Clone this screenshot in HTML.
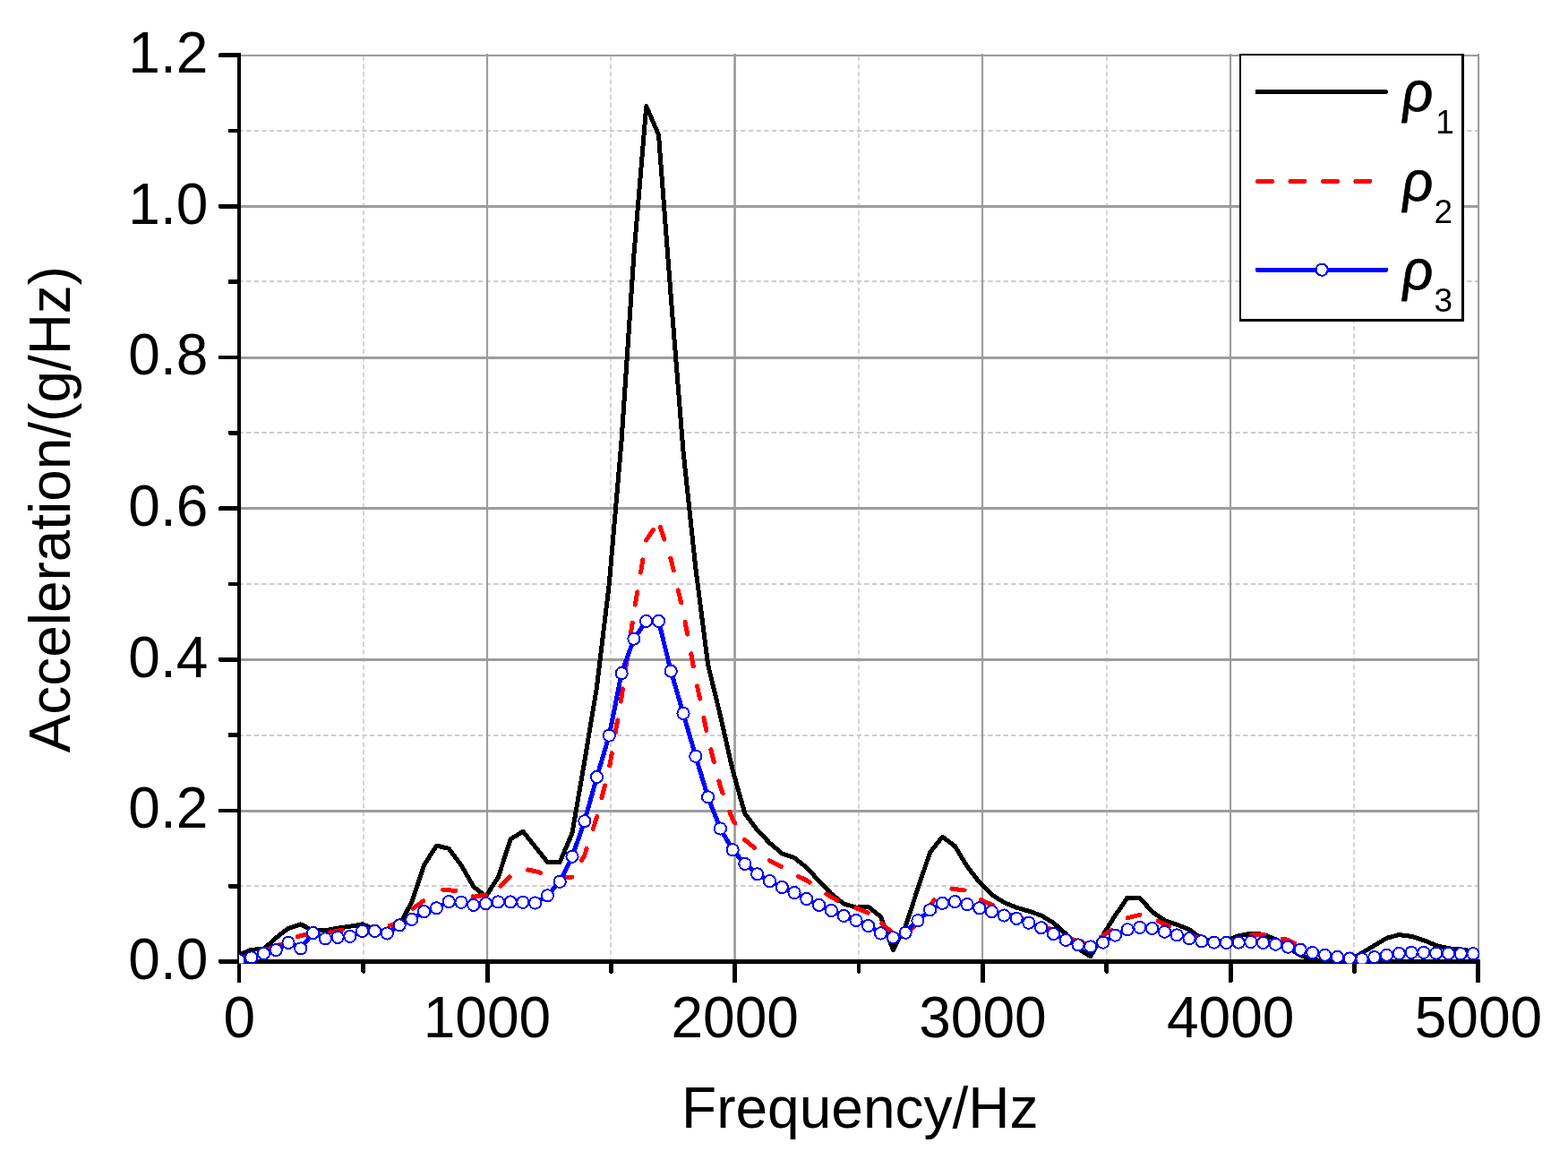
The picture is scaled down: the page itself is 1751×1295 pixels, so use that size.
<!DOCTYPE html>
<html lang="en"><head><meta charset="utf-8"><title>Acceleration vs Frequency</title>
<style>html,body{margin:0;padding:0;background:#fff}body{width:1751px;height:1295px;overflow:hidden}svg{display:block}text{font-family:"Liberation Sans",Arial,sans-serif;fill:#000}</style></head><body>
<svg width="1751" height="1295" viewBox="0 0 1751 1295" role="img" aria-label="Acceleration versus frequency for three densities">
<rect width="1751" height="1295" fill="#fff"/>
<defs><clipPath id="plot"><rect x="267" y="57" width="1385" height="1018.6"/></clipPath></defs>
<g id="grid-minor" stroke="#cdcdcd" fill="none">
<line x1="269" x2="1651" y1="989" y2="989" stroke-width="1.85" stroke-dasharray="5.32 3.308" stroke-dashoffset="2.6"/>
<line x1="269" x2="1651" y1="821" y2="821" stroke-width="1.85" stroke-dasharray="5.32 3.308" stroke-dashoffset="2.6"/>
<line x1="269" x2="1651" y1="652" y2="652" stroke-width="1.85" stroke-dasharray="5.32 3.308" stroke-dashoffset="2.6"/>
<line x1="269" x2="1651" y1="483" y2="483" stroke-width="1.85" stroke-dasharray="5.32 3.308" stroke-dashoffset="2.6"/>
<line x1="269" x2="1651" y1="314" y2="314" stroke-width="1.85" stroke-dasharray="5.32 3.308" stroke-dashoffset="2.6"/>
<line x1="269" x2="1651" y1="146" y2="146" stroke-width="1.85" stroke-dasharray="5.32 3.308" stroke-dashoffset="2.6"/>
<line x1="406" x2="406" y1="63" y2="1071" stroke-width="1.7" stroke-dasharray="5.3 3.3"/>
<line x1="682" x2="682" y1="63" y2="1071" stroke-width="1.7" stroke-dasharray="5.3 3.3"/>
<line x1="959" x2="959" y1="63" y2="1071" stroke-width="1.7" stroke-dasharray="5.3 3.3"/>
<line x1="1236" x2="1236" y1="63" y2="1071" stroke-width="1.7" stroke-dasharray="5.3 3.3"/>
<line x1="1512.1" x2="1512.1" y1="63" y2="1071" stroke-width="1.7" stroke-dasharray="5.3 3.3"/>
</g>
<g id="grid-major" fill="#9d9d9d">
<rect x="269" y="904" width="1383" height="3"/>
<rect x="269" y="735" width="1383" height="3"/>
<rect x="269" y="566" width="1383" height="3"/>
<rect x="269" y="398" width="1383" height="3"/>
<rect x="269" y="229" width="1383" height="3"/>
<rect x="269" y="60.9" width="1383" height="2.1"/>
<rect x="543" y="60" width="2.1" height="1011.5"/>
<rect x="819.2" y="60" width="2.7" height="1011.5"/>
<rect x="1096" y="60" width="2.1" height="1011.5"/>
<rect x="1373" y="60" width="2.1" height="1011.5"/>
<rect x="1650" y="60" width="2.1" height="1011.5"/>
</g>
<g id="axes" fill="#000" shape-rendering="crispEdges">
<rect x="265" y="58.6" width="4.1" height="1017.4" rx="1"/>
<rect x="264.9" y="1071.2" width="1388.2" height="4.7"/>
<rect x="244" y="1071.15" width="24" height="4.7" rx="1.6"/>
<rect x="254.6" y="986.83" width="13" height="4.7" rx="1.6"/>
<rect x="244" y="902.51" width="24" height="4.7" rx="1.6"/>
<rect x="254.6" y="818.19" width="13" height="4.7" rx="1.6"/>
<rect x="244" y="733.87" width="24" height="4.7" rx="1.6"/>
<rect x="254.6" y="649.55" width="13" height="4.7" rx="1.6"/>
<rect x="244" y="565.23" width="24" height="4.7" rx="1.6"/>
<rect x="254.6" y="480.91" width="13" height="4.7" rx="1.6"/>
<rect x="244" y="396.59" width="24" height="4.7" rx="1.6"/>
<rect x="254.6" y="312.27" width="13" height="4.7" rx="1.6"/>
<rect x="244" y="227.95" width="24" height="4.7" rx="1.6"/>
<rect x="254.6" y="143.63" width="13" height="4.7" rx="1.6"/>
<rect x="244" y="59.31" width="24" height="4.7" rx="1.6"/>
<rect x="264.95" y="1073" width="4.1" height="24.2" rx="1.6"/>
<rect x="403.35" y="1073" width="4.9" height="13.6" rx="1.6"/>
<rect x="541.95" y="1073" width="4.9" height="24.2" rx="1.6"/>
<rect x="679.95" y="1073" width="4.9" height="13.6" rx="1.6"/>
<rect x="818.05" y="1073" width="4.9" height="24.2" rx="1.6"/>
<rect x="956.55" y="1073" width="4.9" height="13.6" rx="1.6"/>
<rect x="1094.95" y="1073" width="4.9" height="24.2" rx="1.6"/>
<rect x="1233.35" y="1073" width="4.9" height="13.6" rx="1.6"/>
<rect x="1371.75" y="1073" width="4.9" height="24.2" rx="1.6"/>
<rect x="1509.95" y="1073" width="4.9" height="13.6" rx="1.6"/>
<rect x="1648.05" y="1073" width="4.9" height="24.2" rx="1.6"/>
</g>
<g id="series" clip-path="url(#plot)" fill="none" stroke-linejoin="round" stroke-linecap="round" shape-rendering="crispEdges">
<polyline id="rho1" points="266.9,1066.2 280.7,1060.2 294.5,1059.6 308.2,1046.9 322.0,1036.4 335.8,1031.9 349.6,1038.9 363.4,1038.9 377.1,1036.1 390.9,1034.2 404.7,1031.8 418.5,1037.5 432.3,1041.5 446.1,1033.0 459.8,1006.9 473.6,965.8 487.4,944.1 501.2,947.3 515.0,965.8 528.7,989.8 542.5,1000.7 556.3,979.5 570.1,937.0 583.9,928.1 597.6,945.2 611.4,962.4 625.2,962.4 639.0,930.0 652.8,849.9 666.5,766.8 680.3,651.8 694.1,491.4 707.9,284.4 721.7,118.5 735.5,150.7 749.2,331.0 763.0,503.8 776.8,634.0 790.6,742.0 804.4,798.8 818.1,859.5 831.9,908.5 845.7,926.7 859.5,941.1 873.3,952.8 887.0,957.6 900.8,968.5 914.6,983.6 928.4,998.0 942.2,1009.0 956.0,1013.1 969.7,1012.4 983.5,1023.4 997.3,1060.4 1011.1,1034.6 1024.9,992.0 1038.6,951.5 1052.4,934.3 1066.2,944.5 1080.0,967.2 1093.8,985.0 1107.5,998.7 1121.3,1007.6 1135.1,1013.1 1148.9,1017.2 1162.7,1022.0 1176.4,1030.2 1190.2,1042.5 1204.0,1059.0 1217.8,1067.9 1231.6,1043.9 1245.4,1022.0 1259.1,1002.1 1272.9,1002.5 1286.7,1017.9 1300.5,1027.5 1314.3,1032.3 1328.0,1037.7 1341.8,1048.0 1355.6,1051.0 1369.4,1050.0 1383.2,1044.6 1396.9,1042.3 1410.7,1043.2 1424.5,1048.7 1438.3,1057.6 1452.1,1066.5 1465.8,1071.5 1479.6,1072.7 1493.4,1072.7 1507.2,1072.0 1521.0,1063.8 1534.8,1055.6 1548.5,1047.3 1562.3,1043.6 1576.1,1045.3 1589.9,1049.7 1603.7,1055.4 1617.4,1058.8 1631.2,1060.2 1645.0,1061.6" stroke="#000" stroke-width="5.0"/>
<path id="rho2" d="M266.9 1069.5L278.9 1066.9M299.8 1059.3L308.2 1057.0L313.1 1054.4M332.2 1045.8L335.8 1044.5L346.1 1042.6M368.0 1041.1L377.1 1039.2L382.0 1038.2M401.6 1036.9L404.7 1037.0L415.9 1037.0M435.1 1033.1L446.1 1031.5L448.2 1029.0M461.1 1014.2L472.8 1005.9M494.5 993.3L501.2 993.8L508.7 994.3M528.1 1000.9L528.7 1001.2L542.2 999.1M559.1 989.3L569.0 979.0M589.6 971.0L597.6 972.6L603.4 974.4M624.7 980.4L625.2 980.6L638.9 979.1M649.5 960.6L652.8 954.8L655.1 947.5M662.3 925.3L666.5 912.3L666.7 911.7M672.0 890.7L675.5 876.8M680.8 854.9L683.3 840.8M687.2 818.1L689.6 804.0M693.2 783.1L694.1 778.0L695.4 768.9M698.6 747.0L700.7 732.8M704.1 709.3L706.2 695.1M709.3 675.0L711.7 660.9M715.5 639.0L717.9 624.9M721.6 603.1L721.7 602.9L729.6 591.2M737.4 588.4L741.9 602.0M748.8 623.1L749.2 624.4L752.2 636.9M757.3 659.0L760.6 672.9M765.0 694.2L767.7 708.2M771.7 729.8L774.3 743.9M778.6 766.0L781.5 780.0M785.9 801.3L788.8 815.4M793.9 836.9L797.4 850.8M802.8 872.0L804.4 878.0L807.2 885.6M814.9 906.1L818.1 914.8L820.7 919.1M831.6 937.2L831.9 937.7L842.4 946.5M859.4 960.9L859.5 961.0L872.2 967.3M891.6 978.4L900.8 982.9L904.1 985.3M922.6 998.0L928.4 1001.4L935.0 1005.1M955.8 1013.7L956.0 1013.8L969.1 1019.0M985.0 1030.9L995.4 1040.7M1013.0 1041.9L1023.1 1031.8M1034.9 1016.6L1038.6 1011.6L1043.1 1004.9M1062.9 992.2L1066.2 992.6L1077.1 994.0M1095.2 1004.6L1107.5 1010.0L1108.3 1010.5M1127.7 1021.1L1135.1 1023.5L1141.3 1025.5M1162.2 1033.3L1162.7 1033.5L1175.7 1038.2M1195.7 1048.0L1204.0 1051.0L1209.4 1052.0M1229.3 1046.0L1231.6 1044.6L1241.4 1038.3M1259.1 1024.7L1259.1 1024.7L1272.9 1021.3L1272.9 1021.3M1293.1 1028.3L1300.5 1031.6L1305.9 1034.5M1326.3 1043.4L1328.0 1044.0L1340.0 1047.5M1361.9 1051.2L1369.4 1051.5L1376.1 1050.3M1397.4 1043.9L1410.7 1043.5L1411.6 1043.7M1432.2 1048.2L1438.3 1049.4L1445.5 1053.0M1465.8 1062.0L1465.8 1062.0L1479.5 1066.1M1501.4 1069.3L1507.2 1070.0L1515.7 1070.4M1537.7 1068.1L1548.5 1066.3L1551.8 1065.9M1573.9 1063.6L1576.1 1063.4L1588.2 1063.4M1610.4 1064.3L1617.4 1064.5L1624.7 1064.6" stroke="#ff0000" stroke-width="5.0"/>
<polyline id="rho3" points="266.9,1072.0 280.7,1068.9 294.5,1064.4 308.2,1060.6 322.0,1052.4 335.8,1058.9 349.6,1041.5 363.4,1047.9 377.1,1046.4 390.9,1045.4 404.7,1039.4 418.5,1039.4 432.3,1042.0 446.1,1032.9 459.8,1026.4 473.6,1017.6 487.4,1013.8 501.2,1006.6 515.0,1007.3 528.7,1010.3 542.5,1008.6 556.3,1006.9 570.1,1006.9 583.9,1007.3 597.6,1008.0 611.4,999.8 625.2,984.3 639.0,956.2 652.8,916.7 666.5,867.5 680.3,821.1 694.1,751.6 707.9,713.2 721.7,693.4 735.5,693.4 749.2,749.2 763.0,796.4 776.8,844.3 790.6,889.9 804.4,925.0 818.1,948.7 831.9,964.4 845.7,975.8 859.5,983.6 873.3,990.5 887.0,996.6 900.8,1003.5 914.6,1010.3 928.4,1016.5 942.2,1022.4 956.0,1027.5 969.7,1033.6 983.5,1041.9 997.3,1046.7 1011.1,1041.2 1024.9,1027.7 1038.6,1015.8 1052.4,1008.3 1066.2,1006.6 1080.0,1009.6 1093.8,1013.8 1107.5,1017.6 1121.3,1022.0 1135.1,1025.4 1148.9,1030.2 1162.7,1035.7 1176.4,1042.5 1190.2,1049.4 1204.0,1054.9 1217.8,1056.9 1231.6,1052.1 1245.4,1044.1 1259.1,1037.7 1272.9,1035.4 1286.7,1036.4 1300.5,1040.2 1314.3,1043.9 1328.0,1047.8 1341.8,1050.8 1355.6,1052.1 1369.4,1052.4 1383.2,1052.1 1396.9,1051.5 1410.7,1052.4 1424.5,1054.2 1438.3,1057.2 1452.1,1060.2 1465.8,1063.6 1479.6,1066.2 1493.4,1068.3 1507.2,1070.0 1521.0,1070.6 1534.8,1068.6 1548.5,1066.3 1562.3,1064.5 1576.1,1063.4 1589.9,1063.4 1603.7,1064.1 1617.4,1064.5 1631.2,1064.7 1645.0,1064.7" stroke="#0000ff" stroke-width="5.0"/>
<g fill="#fff" stroke="#0000ff" stroke-width="2.0">
<circle cx="266.9" cy="1072.0" r="6.6"/>
<circle cx="280.7" cy="1068.9" r="6.6"/>
<circle cx="294.5" cy="1064.4" r="6.6"/>
<circle cx="308.2" cy="1060.6" r="6.6"/>
<circle cx="322.0" cy="1052.4" r="6.6"/>
<circle cx="335.8" cy="1058.9" r="6.6"/>
<circle cx="349.6" cy="1041.5" r="6.6"/>
<circle cx="363.4" cy="1047.9" r="6.6"/>
<circle cx="377.1" cy="1046.4" r="6.6"/>
<circle cx="390.9" cy="1045.4" r="6.6"/>
<circle cx="404.7" cy="1039.4" r="6.6"/>
<circle cx="418.5" cy="1039.4" r="6.6"/>
<circle cx="432.3" cy="1042.0" r="6.6"/>
<circle cx="446.1" cy="1032.9" r="6.6"/>
<circle cx="459.8" cy="1026.4" r="6.6"/>
<circle cx="473.6" cy="1017.6" r="6.6"/>
<circle cx="487.4" cy="1013.8" r="6.6"/>
<circle cx="501.2" cy="1006.6" r="6.6"/>
<circle cx="515.0" cy="1007.3" r="6.6"/>
<circle cx="528.7" cy="1010.3" r="6.6"/>
<circle cx="542.5" cy="1008.6" r="6.6"/>
<circle cx="556.3" cy="1006.9" r="6.6"/>
<circle cx="570.1" cy="1006.9" r="6.6"/>
<circle cx="583.9" cy="1007.3" r="6.6"/>
<circle cx="597.6" cy="1008.0" r="6.6"/>
<circle cx="611.4" cy="999.8" r="6.6"/>
<circle cx="625.2" cy="984.3" r="6.6"/>
<circle cx="639.0" cy="956.2" r="6.6"/>
<circle cx="652.8" cy="916.7" r="6.6"/>
<circle cx="666.5" cy="867.5" r="6.6"/>
<circle cx="680.3" cy="821.1" r="6.6"/>
<circle cx="694.1" cy="751.6" r="6.6"/>
<circle cx="707.9" cy="713.2" r="6.6"/>
<circle cx="721.7" cy="693.4" r="6.6"/>
<circle cx="735.5" cy="693.4" r="6.6"/>
<circle cx="749.2" cy="749.2" r="6.6"/>
<circle cx="763.0" cy="796.4" r="6.6"/>
<circle cx="776.8" cy="844.3" r="6.6"/>
<circle cx="790.6" cy="889.9" r="6.6"/>
<circle cx="804.4" cy="925.0" r="6.6"/>
<circle cx="818.1" cy="948.7" r="6.6"/>
<circle cx="831.9" cy="964.4" r="6.6"/>
<circle cx="845.7" cy="975.8" r="6.6"/>
<circle cx="859.5" cy="983.6" r="6.6"/>
<circle cx="873.3" cy="990.5" r="6.6"/>
<circle cx="887.0" cy="996.6" r="6.6"/>
<circle cx="900.8" cy="1003.5" r="6.6"/>
<circle cx="914.6" cy="1010.3" r="6.6"/>
<circle cx="928.4" cy="1016.5" r="6.6"/>
<circle cx="942.2" cy="1022.4" r="6.6"/>
<circle cx="956.0" cy="1027.5" r="6.6"/>
<circle cx="969.7" cy="1033.6" r="6.6"/>
<circle cx="983.5" cy="1041.9" r="6.6"/>
<circle cx="997.3" cy="1046.7" r="6.6"/>
<circle cx="1011.1" cy="1041.2" r="6.6"/>
<circle cx="1024.9" cy="1027.7" r="6.6"/>
<circle cx="1038.6" cy="1015.8" r="6.6"/>
<circle cx="1052.4" cy="1008.3" r="6.6"/>
<circle cx="1066.2" cy="1006.6" r="6.6"/>
<circle cx="1080.0" cy="1009.6" r="6.6"/>
<circle cx="1093.8" cy="1013.8" r="6.6"/>
<circle cx="1107.5" cy="1017.6" r="6.6"/>
<circle cx="1121.3" cy="1022.0" r="6.6"/>
<circle cx="1135.1" cy="1025.4" r="6.6"/>
<circle cx="1148.9" cy="1030.2" r="6.6"/>
<circle cx="1162.7" cy="1035.7" r="6.6"/>
<circle cx="1176.4" cy="1042.5" r="6.6"/>
<circle cx="1190.2" cy="1049.4" r="6.6"/>
<circle cx="1204.0" cy="1054.9" r="6.6"/>
<circle cx="1217.8" cy="1056.9" r="6.6"/>
<circle cx="1231.6" cy="1052.1" r="6.6"/>
<circle cx="1245.4" cy="1044.1" r="6.6"/>
<circle cx="1259.1" cy="1037.7" r="6.6"/>
<circle cx="1272.9" cy="1035.4" r="6.6"/>
<circle cx="1286.7" cy="1036.4" r="6.6"/>
<circle cx="1300.5" cy="1040.2" r="6.6"/>
<circle cx="1314.3" cy="1043.9" r="6.6"/>
<circle cx="1328.0" cy="1047.8" r="6.6"/>
<circle cx="1341.8" cy="1050.8" r="6.6"/>
<circle cx="1355.6" cy="1052.1" r="6.6"/>
<circle cx="1369.4" cy="1052.4" r="6.6"/>
<circle cx="1383.2" cy="1052.1" r="6.6"/>
<circle cx="1396.9" cy="1051.5" r="6.6"/>
<circle cx="1410.7" cy="1052.4" r="6.6"/>
<circle cx="1424.5" cy="1054.2" r="6.6"/>
<circle cx="1438.3" cy="1057.2" r="6.6"/>
<circle cx="1452.1" cy="1060.2" r="6.6"/>
<circle cx="1465.8" cy="1063.6" r="6.6"/>
<circle cx="1479.6" cy="1066.2" r="6.6"/>
<circle cx="1493.4" cy="1068.3" r="6.6"/>
<circle cx="1507.2" cy="1070.0" r="6.6"/>
<circle cx="1521.0" cy="1070.6" r="6.6"/>
<circle cx="1534.8" cy="1068.6" r="6.6"/>
<circle cx="1548.5" cy="1066.3" r="6.6"/>
<circle cx="1562.3" cy="1064.5" r="6.6"/>
<circle cx="1576.1" cy="1063.4" r="6.6"/>
<circle cx="1589.9" cy="1063.4" r="6.6"/>
<circle cx="1603.7" cy="1064.1" r="6.6"/>
<circle cx="1617.4" cy="1064.5" r="6.6"/>
<circle cx="1631.2" cy="1064.7" r="6.6"/>
<circle cx="1645.0" cy="1064.7" r="6.6"/>
</g></g>
<g id="ylabels" font-size="64" text-anchor="end">
<text x="232.3" y="1092.8">0.0</text>
<text x="232.3" y="924.16">0.2</text>
<text x="232.3" y="755.52">0.4</text>
<text x="232.3" y="586.88">0.6</text>
<text x="232.3" y="418.24">0.8</text>
<text x="232.3" y="249.6">1.0</text>
<text x="232.3" y="80.96">1.2</text>
</g>
<g id="xlabels" font-size="64" text-anchor="middle">
<text x="267.2" y="1157.8">0</text>
<text x="543.95" y="1157.8">1000</text>
<text x="820.7" y="1157.8">2000</text>
<text x="1097.45" y="1157.8">3000</text>
<text x="1374.2" y="1157.8">4000</text>
<text x="1650.95" y="1157.8">5000</text>
</g>
<text id="xtitle" x="960.3" y="1259.4" font-size="64" text-anchor="middle">Frequency/Hz</text>
<text id="ytitle" transform="translate(77.9 568.6) rotate(-90) scale(0.994 1)" font-size="64.3" text-anchor="middle">Acceleration/(g/Hz)</text>
<g id="legend" shape-rendering="crispEdges">
<rect x="1385.2" y="61.2" width="248.4" height="296.4" fill="#fff" stroke="#000" stroke-width="2.4"/>
<rect x="1632.4" y="60" width="3" height="299" fill="#000"/>
<rect x="1384" y="356" width="251.4" height="3" fill="#000"/>
<line x1="1404" x2="1547.6" y1="102.6" y2="102.6" stroke="#000" stroke-width="5" stroke-linecap="round"/>
<line x1="1404.4" x2="1547.6" y1="202.4" y2="202.4" stroke="#ff0000" stroke-width="5" stroke-linecap="round" stroke-dasharray="16 20.5"/>
<line x1="1404" x2="1547.6" y1="301.2" y2="301.2" stroke="#0000ff" stroke-width="5" stroke-linecap="round"/>
<circle cx="1476.1" cy="301.2" r="6.6" fill="#fff" stroke="#0000ff" stroke-width="2.0"/>
<text transform="translate(1566.2 124.0) skewX(3) scale(0.97 1)" font-size="63" font-style="italic" stroke="#000" stroke-width="0.8">ρ</text>
<text x="1603.3" y="149.0" font-size="37">1</text>
<text transform="translate(1566.2 223.6) skewX(3) scale(0.97 1)" font-size="63" font-style="italic" stroke="#000" stroke-width="0.8">ρ</text>
<text x="1601.5" y="248.6" font-size="37">2</text>
<text transform="translate(1566.2 322.8) skewX(3) scale(0.97 1)" font-size="63" font-style="italic" stroke="#000" stroke-width="0.8">ρ</text>
<text x="1601.5" y="347.8" font-size="37">3</text>
</g>
</svg></body></html>
